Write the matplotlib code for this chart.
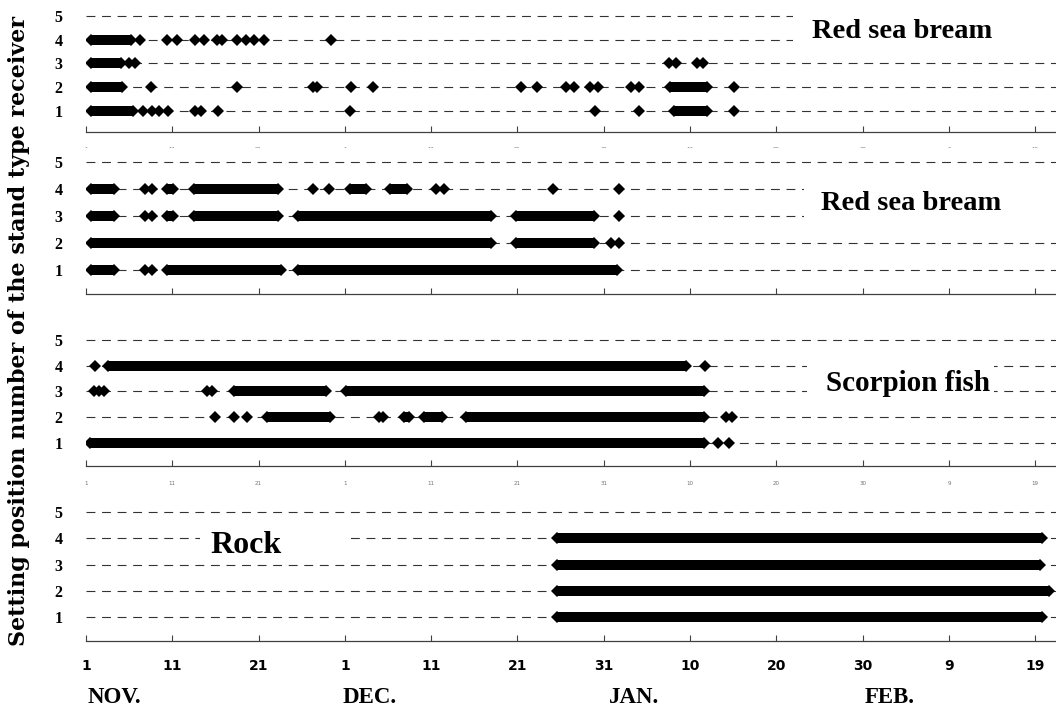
import matplotlib
matplotlib.use("Agg")
import matplotlib.pyplot as plt
from matplotlib.patches import Rectangle

# x axis: days counted from 1 Nov
tick_days = [0, 10, 20, 30, 40, 50, 60, 70, 80, 90, 100, 110]
tick_labels = ["1", "11", "21", "1", "11", "21", "31", "10", "20", "30", "9", "19"]
months = ["NOV.", "DEC.", "JAN.", "FEB."]
month_days = [0.2, 29.7, 60.6, 90.2]
receivers = [1, 2, 3, 4, 5]

# single detections (day) and continuous detection stretches (first day, last day)
bream1_days = {
    4: [6.2, 9.4, 10.5, 12.6, 13.7, 15.2, 15.8, 17.5, 18.5, 19.5, 20.6, 28.4],
    3: [5.0, 5.7, 67.5, 68.4, 70.8, 71.5],
    2: [7.5, 17.5, 26.3, 26.8, 30.7, 33.3, 50.4, 52.3, 55.6, 56.5, 58.4, 59.3,
        63.2, 64.1, 75.1],
    1: [6.6, 7.6, 8.5, 9.5, 12.6, 13.3, 15.3, 30.6, 59.0, 64.1, 75.1],
}
bream1_runs = {
    4: [(0.6, 5.2)],
    3: [(0.6, 4.0)],
    2: [(0.6, 4.2), (67.7, 72.0)],
    1: [(0.6, 5.4), (68.1, 72.0)],
}

bream2_days = {
    4: [6.8, 7.7, 26.3, 28.2, 40.6, 41.5, 54.1, 61.8],
    3: [6.8, 7.7, 61.8],
    2: [60.8, 61.8],
    1: [6.8, 7.7],
}
bream2_runs = {
    4: [(0.6, 3.2), (9.4, 10.1), (12.5, 22.2), (30.6, 32.4), (35.2, 37.2)],
    3: [(0.6, 3.2), (9.4, 10.1), (12.5, 22.2), (24.6, 46.9), (49.8, 58.9)],
    2: [(0.6, 46.9), (49.8, 58.9)],
    1: [(0.6, 3.2), (9.4, 22.6), (24.6, 61.5)],
}

scorp_days = {
    4: [1.0, 71.7],
    3: [0.9, 1.5, 2.1, 14.0, 14.6],
    2: [15.0, 17.2, 18.6, 33.9, 34.4, 74.2, 74.8],
    1: [73.2, 74.5],
}
scorp_runs = {
    4: [(2.6, 69.5)],
    3: [(17.2, 27.8), (30.1, 71.6)],
    2: [(21.0, 28.3), (36.8, 37.4), (39.2, 41.3), (44.0, 71.6)],
    1: [(0.5, 71.6)],
}

rock_days = {}
rock_runs = {
    4: [(54.6, 110.8)],
    3: [(54.6, 110.5)],
    2: [(54.6, 111.6)],
    1: [(54.6, 110.8)],
}

# panel: data, title, title position/size, white box behind title, top/bottom in px
panels = [
    (bream1_days, bream1_runs, "Red sea bream", (94.6, 4.05), 20.5, (81.9, 3.6, 31, 1.8), 4, 132),
    (bream2_days, bream2_runs, "Red sea bream", (95.6, 3.2), 20.5, (83.2, 2.6, 30, 1.8), 148, 294),
    (scorp_days, scorp_runs, "Scorpion fish", (95.3, 3.03), 21, (83.5, 2.6, 21.7, 1.8), 327, 466),
    (rock_days, rock_runs, "Rock", (18.6, 3.44), 23, (13.2, 3.6, 16.8, 0.8), 499, 641),
]

W, H = 1056, 719
serif = "Liberation Serif"
fig = plt.figure(figsize=(W / 100, H / 100), dpi=100)

axes = []
for i, (days, runs, title, tpos, tsize, box, top, bottom) in enumerate(panels):
    ax = fig.add_axes([86 / W, 1 - bottom / H, 1 - 86 / W, (bottom - top) / H])
    axes.append(ax)
    ax.set_xlim(0, 112.4)
    ax.set_ylim(0.1, 5.5)

    for r in receivers:
        ax.axhline(r, color="0.2", lw=0.8, ls=(0, (8, 6)), zorder=1)

    for r, spans in runs.items():
        for a, b in spans:
            ax.hlines(r, a, b, color="black", lw=7.2, zorder=3)
            ax.plot([a, b], [r, r], "D", color="black", ms=6, mew=0, zorder=3)
    for r, d in days.items():
        ax.plot(d, [r] * len(d), "D", color="black", ms=6, mew=0, zorder=3)

    x0, y0, bw, bh = box
    ax.add_patch(Rectangle((x0, y0), bw, bh, facecolor="white", edgecolor="none",
                           zorder=4, clip_on=False))
    ax.text(tpos[0], tpos[1], title, ha="center", va="baseline", fontsize=tsize,
            fontweight="bold", family=serif, zorder=5)

    for s in ["top", "left", "right"]:
        ax.spines[s].set_visible(False)
    ax.spines["bottom"].set_color("0.25")
    ax.spines["bottom"].set_linewidth(0.9)

    ax.set_yticks(receivers)
    ax.set_yticklabels([str(r) for r in receivers], fontsize=11.5, fontweight="bold",
                       family=serif)
    ax.tick_params(axis="y", length=0, pad=17)

    ax.set_xticks(tick_days)
    ax.tick_params(axis="x", direction="in", length=4, width=0.8, color="0.25")
    if i == 3:
        ax.set_xticklabels(tick_labels, fontsize=10, fontweight="bold",
                           family=["Liberation Sans Narrow", "DejaVu Sans"])
        ax.tick_params(axis="x", pad=13)
    elif i in (0, 2):
        # faint reprint of the day numbers under these panels
        ax.set_xticklabels(tick_labels, fontsize=4, color="0.45")
        ax.tick_params(axis="x", pad=11)
    else:
        ax.set_xticklabels([])

for m, d in zip(months, month_days):
    axes[3].text(d, -0.40, m, transform=axes[3].get_xaxis_transform(), ha="left",
                 va="center", fontsize=16.5, fontweight="bold", family=serif)

fig.text(0.018, 0.54, "Setting position number of the stand type receiver", rotation=90,
         ha="center", va="center", fontsize=16, fontweight="bold", family="DejaVu Serif")

fig.savefig("out.png", dpi=100)
